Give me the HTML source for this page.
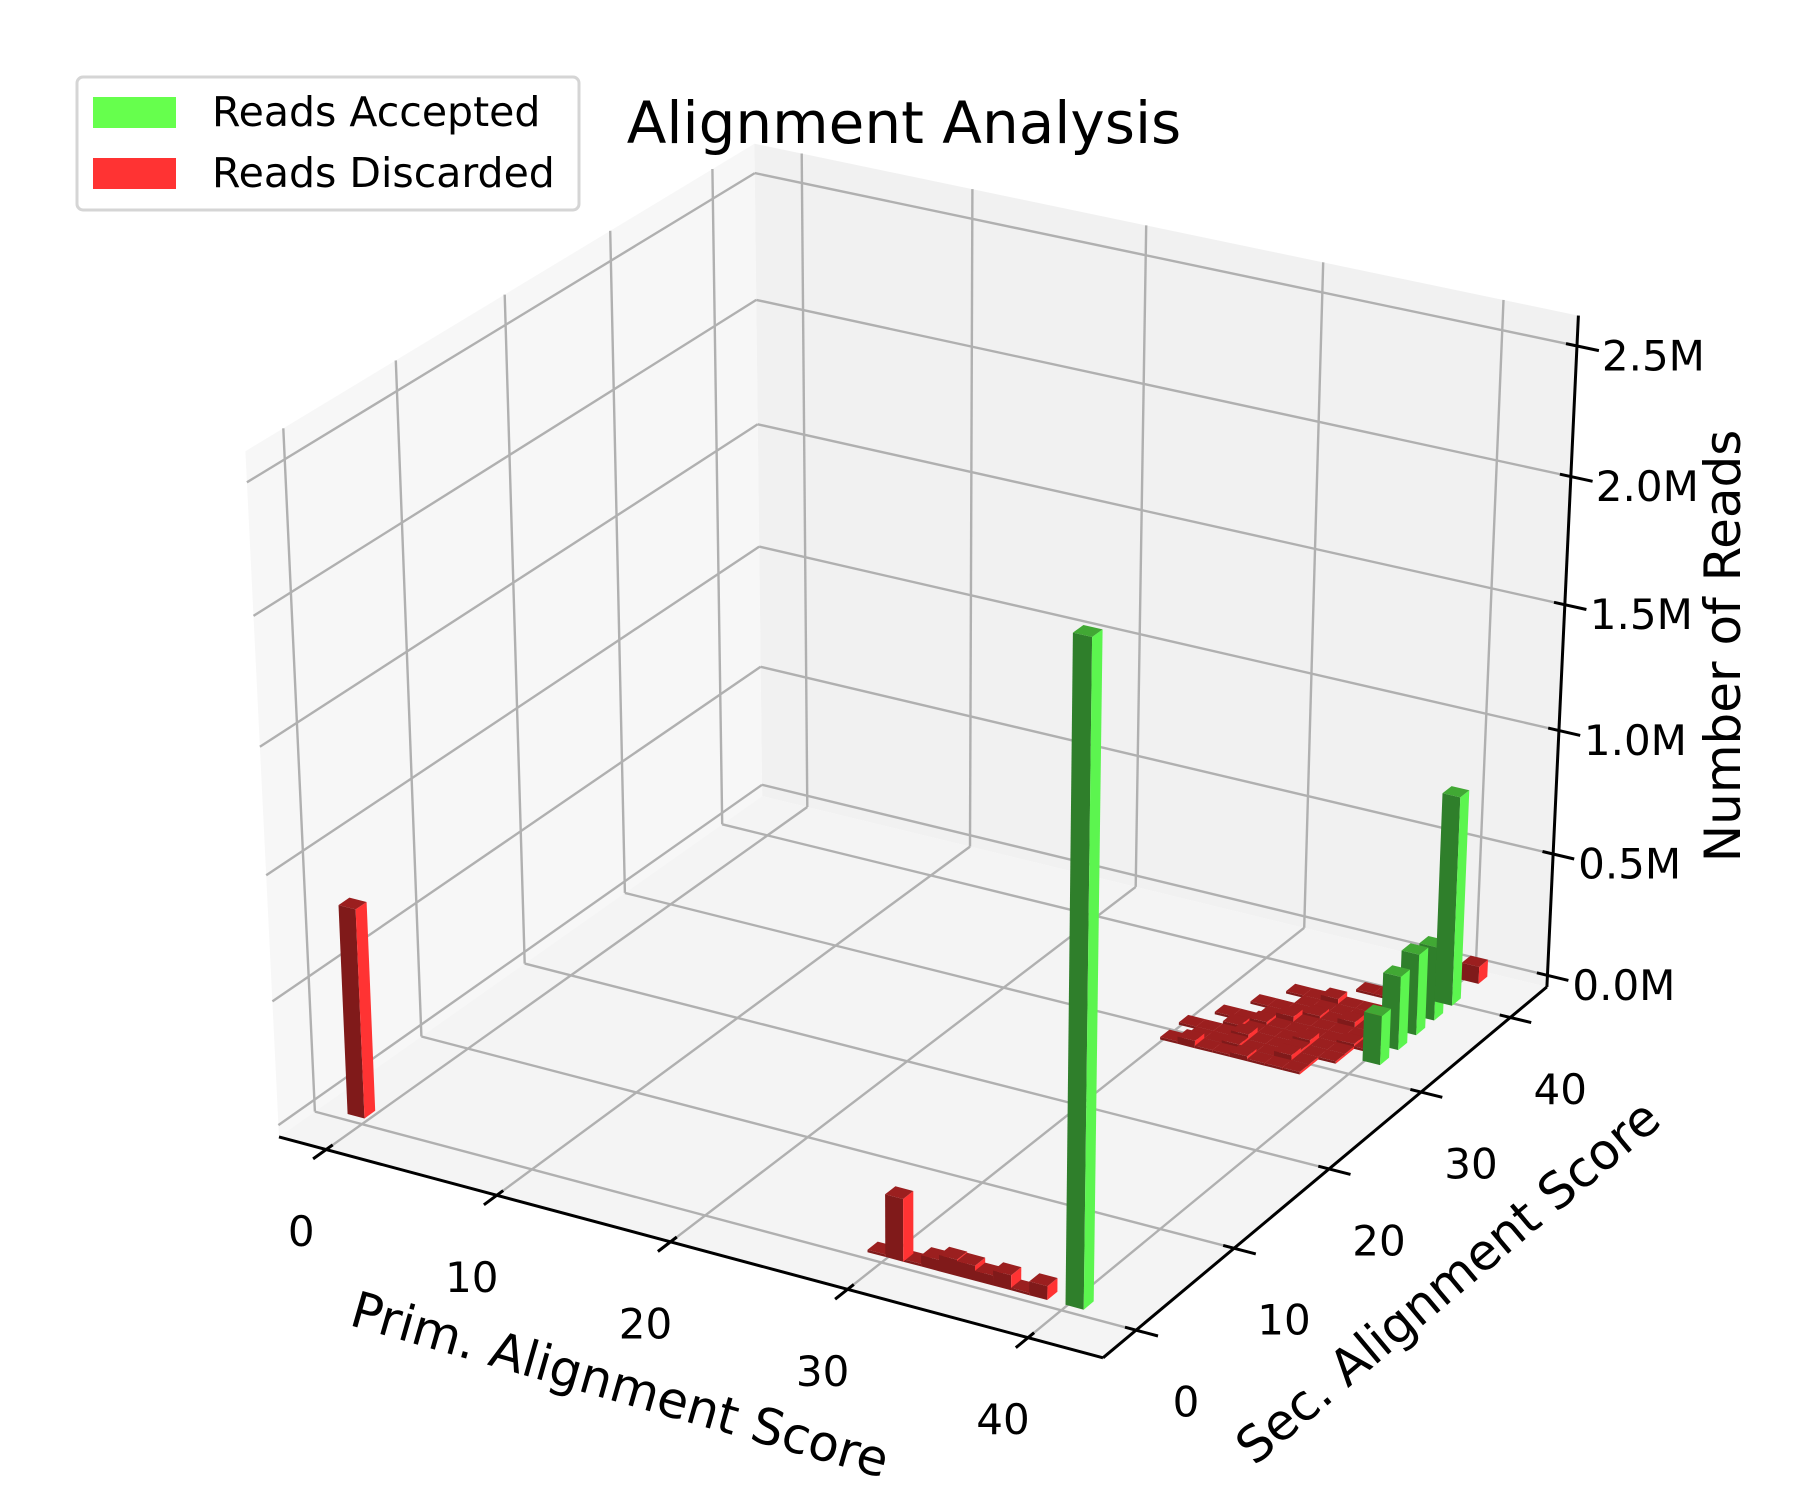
<!DOCTYPE html>
<html><head><meta charset="utf-8"><style>
html,body{margin:0;padding:0;background:#fff;}
svg{display:block;font-family:"DejaVu Sans","Liberation Sans",sans-serif;}
</style></head><body>
<svg id="chart" width="1800" height="1500" viewBox="0 0 1800 1500" xmlns="http://www.w3.org/2000/svg">
<g id="panes"></g>
<g id="grid"></g>
<g id="axes"></g>
<g id="bars"></g>
<g id="labels"></g>
<text x="904" y="123" font-size="58" text-anchor="middle" dominant-baseline="central">Alignment Analysis</text>
<text x="620" y="1385" font-size="50" text-anchor="middle" dominant-baseline="central" transform="rotate(16 620 1385)">Prim. Alignment Score</text>
<text x="1448" y="1282" font-size="50" text-anchor="middle" dominant-baseline="central" transform="rotate(-40 1448 1282)">Sec. Alignment Score</text>
<text x="1723" y="646" font-size="50" text-anchor="middle" dominant-baseline="central" transform="rotate(-90 1723 646)">Number of Reads</text>
<g>
<rect x="77" y="77" width="502" height="133" rx="6" fill="#fff" stroke="#d5d5d5" stroke-width="3"/>
<rect x="93" y="97" width="83" height="31" fill="#66ff4d"/>
<text x="212" y="112" font-size="41" dominant-baseline="central">Reads Accepted</text>
<rect x="93" y="158" width="83" height="31" fill="#ff3333"/>
<text x="212" y="173" font-size="41" dominant-baseline="central">Reads Discarded</text>
</g>
</svg>
<script>
// ---- data ----
const xTicks = [0, 10, 20, 30, 40];
const yTicks = [0, 10, 20, 30, 40];
const zTicks = [0, 0.5, 1.0, 1.5, 2.0, 2.5];
const zTickLabels = ["0.0M", "0.5M", "1.0M", "1.5M", "2.0M", "2.5M"];
const greenPrim = [41, 41, 41, 41, 41, 41];
const greenSec = [0, 31, 33, 35, 37, 39];
const greenHeight = [2.55, 0.2, 0.3, 0.33, 0.3, 0.85];
const redPrim = [0, 30, 31, 32, 33, 34, 35, 36, 37, 38, 39, 41,
  31, 32, 33, 34, 35, 36, 37, 38,
  32, 33, 34, 35, 36, 37, 38,
  31, 32, 33, 34, 35, 36, 37, 38, 39,
  33, 34, 35, 36, 37, 38, 39,
  32, 33, 34, 35, 36, 37, 38, 39, 40,
  34, 35, 36, 37, 38, 39,
  33, 34, 35, 36, 37, 38, 39, 40,
  35, 36, 37, 38, 39, 40,
  34, 35, 36, 37, 38, 39, 40,
  37, 38, 39, 40];
const redSec = [0, 0, 0, 0, 0, 0, 0, 0, 0, 0, 0, 42,
  28, 28, 28, 28, 28, 28, 28, 28,
  29, 29, 29, 29, 29, 29, 29,
  30, 30, 30, 30, 30, 30, 30, 30, 30,
  31, 31, 31, 31, 31, 31, 31,
  32, 32, 32, 32, 32, 32, 32, 32, 32,
  33, 33, 33, 33, 33, 33,
  34, 34, 34, 34, 34, 34, 34, 34,
  35, 35, 35, 35, 35, 35,
  36, 36, 36, 36, 36, 36, 36,
  38, 38, 38, 38];
const redHeight = [0.84, 0.01, 0.25, 0.01, 0.045, 0.065, 0.06, 0.04, 0.06, 0.01, 0.055, 0.07,
  0.01, 0.03, 0.01, 0.01, 0.02, 0.01, 0.01, 0.01,
  0.01, 0.01, 0.02, 0.01, 0.01, 0.03, 0.01,
  0.01, 0.01, 0.01, 0.03, 0.01, 0.01, 0.02, 0.01, 0.01,
  0.02, 0.01, 0.01, 0.01, 0.03, 0.01, 0.01,
  0.01, 0.01, 0.02, 0.01, 0.01, 0.01, 0.01, 0.02, 0.01,
  0.01, 0.03, 0.01, 0.01, 0.01, 0.01,
  0.01, 0.01, 0.01, 0.02, 0.01, 0.03, 0.01, 0.01,
  0.01, 0.01, 0.01, 0.01, 0.02, 0.01,
  0.01, 0.01, 0.03, 0.01, 0.01, 0.01, 0.01,
  0.01, 0.01, 0.02, 0.01];

// ---- axis limits ----
const XMIN = -2.8, XMAX = 44.1, YMIN = -3.3, YMAX = 44.2, ZMIN = -0.048, ZMAX = 2.615;
const NS = "http://www.w3.org/2000/svg";

// ---- matplotlib-like projection ----
const elev = 30 * Math.PI / 180, azim = -60 * Math.PI / 180, dist = 10;
const E = [0.5 + Math.cos(azim) * Math.cos(elev) * dist, 0.5 + Math.sin(azim) * Math.cos(elev) * dist, 0.5 + Math.sin(elev) * dist];
function sub(a, b) { return [a[0] - b[0], a[1] - b[1], a[2] - b[2]]; }
function dot(a, b) { return a[0] * b[0] + a[1] * b[1] + a[2] * b[2]; }
function cross(a, b) { return [a[1] * b[2] - a[2] * b[1], a[2] * b[0] - a[0] * b[2], a[0] * b[1] - a[1] * b[0]]; }
function nrm(a) { const l = Math.sqrt(dot(a, a)); return [a[0] / l, a[1] / l, a[2] / l]; }
const nv = nrm(sub(E, [0.5, 0.5, 0.5]));
const uv = nrm(cross([0, 0, 1], nv));
const vv = cross(nv, uv);
function normPt(x, y, z) { return [(x - XMIN) / (XMAX - XMIN), (y - YMIN) / (YMAX - YMIN), (z - ZMIN) / (ZMAX - ZMIN)]; }
function raw(x, y, z) {
  const p = sub(normPt(x, y, z), E);
  const zv = dot(nv, p);
  return [dot(uv, p) / (-zv), dot(vv, p) / (-zv)];
}
function depth(x, y, z) { const p = sub(normPt(x, y, z), E); return Math.sqrt(dot(p, p)); }
const anchors = [
  [XMIN, YMIN, ZMIN, 278, 1137], [XMAX, YMIN, ZMIN, 1103, 1358], [XMAX, YMAX, ZMIN, 1547, 987],
  [XMIN, YMAX, ZMAX, 755, 145], [XMAX, YMAX, ZMAX, 1578, 315], [XMIN, YMIN, ZMAX, 246, 450]
];
function fit(idx) {
  let n = 0, sx = 0, sy = 0, sxx = 0, sxy = 0;
  anchors.forEach(a => { const r = raw(a[0], a[1], a[2])[idx]; const t = a[3 + idx]; n++; sx += r; sy += t; sxx += r * r; sxy += r * t; });
  const k = (n * sxy - sx * sy) / (n * sxx - sx * sx);
  return [k, (sy - k * sx) / n];
}
const FX = fit(0), FY = fit(1);
function P(x, y, z) { const r = raw(x, y, z); return [FX[0] * r[0] + FX[1], FY[0] * r[1] + FY[1]]; }
function ptsStr(list) { return list.map(p => { const s = P(p[0], p[1], p[2]); return s[0].toFixed(1) + "," + s[1].toFixed(1); }).join(" "); }

const panes = document.getElementById("panes");
const grid = document.getElementById("grid");
const axes = document.getElementById("axes");
const barsG = document.getElementById("bars");
const labels = document.getElementById("labels");

function poly(parent, pts, fill, name) {
  const el = document.createElementNS(NS, "polygon");
  el.setAttribute("points", ptsStr(pts));
  el.setAttribute("fill", fill);
  
  
  parent.appendChild(el);
  return el;
}
function line(parent, a, b, color, w, name) {
  const pa = P(a[0], a[1], a[2]), pb = P(b[0], b[1], b[2]);
  const el = document.createElementNS(NS, "line");
  el.setAttribute("x1", pa[0].toFixed(1)); el.setAttribute("y1", pa[1].toFixed(1));
  el.setAttribute("x2", pb[0].toFixed(1)); el.setAttribute("y2", pb[1].toFixed(1));
  el.setAttribute("stroke", color); el.setAttribute("stroke-width", w);
  
  
  parent.appendChild(el);
}
function text(x, y, s, anchor, name) {
  const el = document.createElementNS(NS, "text");
  el.setAttribute("x", x.toFixed(1)); el.setAttribute("y", y.toFixed(1));
  el.setAttribute("font-size", "42");
  el.setAttribute("text-anchor", anchor);
  el.setAttribute("dominant-baseline", "central");
  el.textContent = s;
  
  
  labels.appendChild(el);
}

// panes
poly(panes, [[XMIN, YMIN, ZMIN], [XMIN, YMAX, ZMIN], [XMIN, YMAX, ZMAX], [XMIN, YMIN, ZMAX]], "#f7f7f7", "left-pane");
poly(panes, [[XMIN, YMAX, ZMIN], [XMAX, YMAX, ZMIN], [XMAX, YMAX, ZMAX], [XMIN, YMAX, ZMAX]], "#f1f1f1", "back-pane");
poly(panes, [[XMIN, YMIN, ZMIN], [XMAX, YMIN, ZMIN], [XMAX, YMAX, ZMIN], [XMIN, YMAX, ZMIN]], "#f4f4f4", "floor-pane");

// grid
const GC = "#b0b0b0", GW = 2.4;
xTicks.forEach(v => {
  line(grid, [v, YMIN, ZMIN], [v, YMAX, ZMIN], GC, GW, "x-grid-floor");
  line(grid, [v, YMAX, ZMIN], [v, YMAX, ZMAX], GC, GW, "x-grid-back");
});
yTicks.forEach(v => {
  line(grid, [XMIN, v, ZMIN], [XMAX, v, ZMIN], GC, GW, "y-grid-floor");
  line(grid, [XMIN, v, ZMIN], [XMIN, v, ZMAX], GC, GW, "y-grid-left");
});
zTicks.forEach(v => {
  line(grid, [XMIN, YMIN, v], [XMIN, YMAX, v], GC, GW, "z-grid-left");
  line(grid, [XMIN, YMAX, v], [XMAX, YMAX, v], GC, GW, "z-grid-back");
});

// axis lines
line(axes, [XMIN, YMIN, ZMIN], [XMAX, YMIN, ZMIN], "#000", 3, "x-axis-line");
line(axes, [XMAX, YMIN, ZMIN], [XMAX, YMAX, ZMIN], "#000", 3, "y-axis-line");
line(axes, [XMAX, YMAX, ZMIN], [XMAX, YMAX, ZMAX], "#000", 3, "z-axis-line");
xTicks.forEach((v, i) => {
  line(axes, [v, YMIN + 0.6, ZMIN], [v, YMIN - 1.2, ZMIN], "#000", 3, "x-tick");
  const p = P(v, YMIN, ZMIN);
  text(p[0] - 25, p[1] + 82, String(v), "middle", "x-tick-label");
});
yTicks.forEach(v => {
  line(axes, [XMAX - 0.6, v, ZMIN], [XMAX + 1.2, v, ZMIN], "#000", 3, "y-tick");
  const p = P(XMAX, v, ZMIN);
  text(p[0] + 50, p[1] + 72, String(v), "middle", "y-tick-label");
});
zTicks.forEach((v, i) => {
  line(axes, [XMAX - 0.6, YMAX, v], [XMAX + 1.2, YMAX, v], "#000", 3, "z-tick");
  const p = P(XMAX, YMAX, v);
  text(p[0] + 25, p[1] + 10, zTickLabels[i], "start", "z-tick-label");
});

// bars
const bars = [];
greenPrim.forEach((x, i) => bars.push({ x: x, y: greenSec[i], h: greenHeight[i], c: ["#41a834", "#2f7f2b", "#5cf54f"], n: "bar-accepted" }));
redPrim.forEach((x, i) => bars.push({ x: x, y: redSec[i], h: redHeight[i], c: ["#9b1f1f", "#801a1a", "#ff3333"], n: "bar-discarded" }));
bars.forEach(b => { b.d = depth(b.x, b.y, b.h / 2); });
bars.sort((a, b) => b.d - a.d);
bars.forEach(b => {
  const x0 = b.x - 0.5, x1 = b.x + 0.5, y0 = b.y - 0.5, y1 = b.y + 0.5, h = b.h;
  const g = document.createElementNS(NS, "g");
  
  
  barsG.appendChild(g);
  poly(g, [[x0, y0, 0], [x1, y0, 0], [x1, y0, h], [x0, y0, h]], b.c[1], "bar-front-face");
  poly(g, [[x1, y0, 0], [x1, y1, 0], [x1, y1, h], [x1, y0, h]], b.c[2], "bar-side-face");
  poly(g, [[x0, y0, h], [x1, y0, h], [x1, y1, h], [x0, y1, h]], b.c[0], "bar-top-face");
});
</script>
</body></html>
